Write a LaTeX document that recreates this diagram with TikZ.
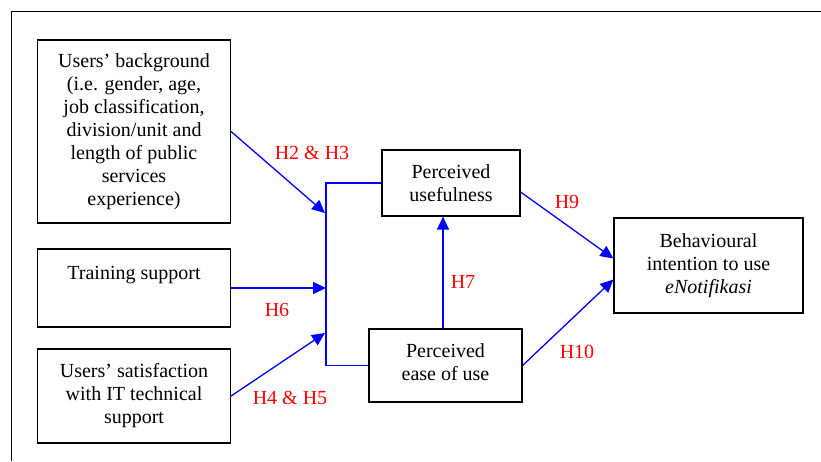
\documentclass[tikz,border=0pt]{standalone}
\usepackage{fontspec}
\setmainfont{Liberation Serif}
\usetikzlibrary{arrows.meta}
\tikzset{
  box/.style={draw,line width=1.2pt,align=center,inner sep=0pt},
  link/.style={draw=blue,line width=1.3pt},
  tip/.style={-{Triangle[length=13pt,width=12pt]}},
  hyp/.style={text=red}
}
\begin{document}
\begin{tikzpicture}[x=1pt,y=-1pt,font=\fontsize{20}{23}\selectfont]
        \useasboundingbox (0,0) rectangle (821,461);
        %% Frame
        \draw[line width=1.8pt] (11.5,461) -- (11.5,11.5) -- (821,11.5);
        %% Boxes
        \node[box,minimum width=193pt,minimum height=183pt] (bg) at (134,131.5)
          {Users’ background\\(i.e. gender, age,\\job classification,\\division/unit and\\length of public\\services\\experience)};
        \node[box,minimum width=193pt,minimum height=78pt] (train) at (134,288) {Training support\\[8pt]\mbox{}};
        \node[box,minimum width=193pt,minimum height=94pt] (sat) at (134,396) {Users’ satisfaction\\with IT technical\\support};
        \node[box,minimum width=138pt,minimum height=66pt] (pu) at (451,183) {Perceived\\usefulness};
        \node[box,minimum width=153pt,minimum height=73pt] (peou) at (445.5,365.5) {Perceived\\ease of use\\[-17pt]\mbox{}};
        \node[box,minimum width=189pt,minimum height=95pt] (bi) at (708.5,265.5) {Behavioural\\intention to use\\\textit{eNotifikasi}};
        %% Spine
        \coordinate (spine) at (326,0);
        \coordinate (inbg) at (325,213);
        \coordinate (insat) at (325,333);
        \draw[link] (pu.west) -| (spine |- peou.west) -- (peou.west);
        %% Paths
        \draw[link,tip] (bg.east) -- (inbg);
        \draw[link,tip] (train.east) -- (spine |- train.east);
        \draw[link,tip] (sat.east) -- (insat);
        \draw[link,tip] ([xshift=-2.5pt]peou.north) -- ([xshift=-2.5pt]peou.north |- pu.south);
        \draw[link,tip] ([yshift=-9pt]pu.east) -- ([yshift=7pt]bi.west);
        \draw[link,tip] (peou.east) -- ([yshift=-14pt]bi.west);
        %% Hypotheses
        \node[hyp] (h23) at (312,153) {H2 \& H3};
        \node[hyp] (h6) at (277,310) {H6};
        \node[hyp] (h45) at (290,398) {H4 \& H5};
        \node[hyp] (h7) at (463,282) {H7};
        \node[hyp] (h9) at (567,202) {H9};
        \node[hyp] (h10) at (577,352) {H10};
\end{tikzpicture}
\end{document}
